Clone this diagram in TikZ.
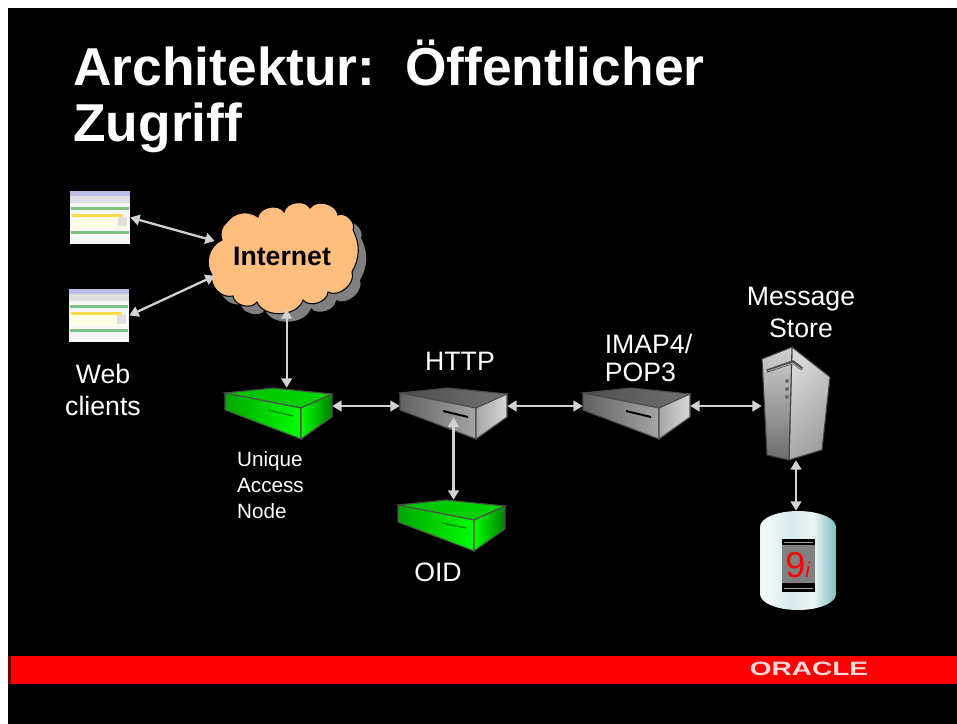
\documentclass[tikz,border=0pt]{standalone}
\usepackage{fontspec}
\setmainfont{Liberation Sans}
\usetikzlibrary{arrows.meta}
\definecolor{cloudfill}{HTML}{FFBE7D}
\definecolor{linkgray}{HTML}{D2D2D2}
\pgfdeclarehorizontalshading{dbshade}{100bp}{
  rgb(0bp)=(0.08,0.36,0.36); rgb(10bp)=(0.40,0.68,0.68); rgb(26bp)=(0.96,0.98,0.98);
  rgb(46bp)=(0.84,0.92,0.92); rgb(60bp)=(0.92,0.96,0.96); rgb(78bp)=(0.40,0.72,0.70);
  rgb(92bp)=(0.26,0.58,0.56); rgb(100bp)=(0.06,0.30,0.30)}
\tikzset{
  whitetext/.style={text=white, inner sep=0pt, align=left, font=\fontsize{20}{24}\selectfont},
  boxnode/.style={inner sep=0pt, minimum width=80.25pt, minimum height=27pt},
  link/.style={draw=linkgray, line width=1.7pt, {Triangle[length=7pt,width=8pt]}-{Triangle[length=7pt,width=8pt]}},
}
% box: name, x, y, top colors, left colors, right colors, border
\newcommand{\flatbox}[9]{
  \begin{scope}[shift={(#2,#3)}]
    \node[boxnode] (#1) at (53.5,13) {};
    \shadedraw[draw=#9, line width=0.8pt, left color=#4, right color=#5] (0,0) -- (48,-5) -- (107,1) -- (76,15) -- cycle;
    \shadedraw[draw=#9, line width=0.8pt, left color=#6, right color=#7] (0,0) -- (76,15) -- (76,46) -- (0,17) -- cycle;
    \shadedraw[draw=#9, line width=0.8pt, left color=#7, right color=#8] (76,15) -- (107,1) -- (107,24) -- (76,46) -- cycle;
  \end{scope}
}
% web page thumbnail
\newcommand{\webpage}[3]{
  \begin{scope}[shift={(#2,#3)}]
    \node[inner sep=0pt, minimum width=45pt, minimum height=39.75pt, fill=white!93!gray] (#1) at (30,26.5) {};
    \fill[gray!50!blue!35!white] (0,0) rectangle (60,5);
    \fill[gray!25] (0,5) rectangle (60,12);
    \fill[green!35!gray!75!white] (1,16) rectangle (59,19);
    \fill[yellow!65!orange!70!white] (2,23) rectangle (53,26);
    \fill[yellow!10] (2,26) rectangle (58,37);
    \fill[gray!25] (48,26) rectangle (57,35);
    \fill[green!35!gray!75!white] (1,40) rectangle (59,43);
  \end{scope}
}
% outline of the cloud
\newcommand{\cloudpath}{(222,240) to[bend left=35] (227,222) to[bend left=45] (258,217) to[bend left=70] (284,212)
  to[bend left=70] (310,208) to[bend left=70] (338,215) to[bend left=70] (353,230) to[bend left=28] (352,272)
  to[bend left=70] (328,292) to[bend left=70] (303,300) to[bend left=70] (257,302) to[bend left=70] (233,296)
  to[bend left=60] (212,275) to[bend left=50] cycle}
\begin{document}
\begin{tikzpicture}[x=0.75pt, y=-0.75pt]
  \useasboundingbox (0,0) rectangle (957,724);
  \fill[white] (0,0) rectangle (957,724);
  \fill[black] (8,8) rectangle (957,724);
  \fill[red!45!black] (8,656) rectangle (11,684);
  \fill[red] (11,656) rectangle (957,684);

  % Title
  \node[whitetext, anchor=north west, font=\bfseries\fontsize{40}{42}\selectfont] (title) at (73,40) {Architektur:\ \ Öffentlicher\\Zugriff};

  % Nodes
  \webpage{webtop}{70}{191}
  \webpage{webbottom}{69}{289}
  \node[whitetext, align=center] (webtext) at (103,390) {Web\\clients};

  \fill[gray, shift={(8,8)}] \cloudpath;
  \draw[black, fill=cloudfill, line width=0.8pt] \cloudpath;
  \node[inner sep=0pt, minimum width=100.5pt, minimum height=78.75pt, font=\bfseries\fontsize{20}{24}\selectfont] (internet) at (282,256.5) {Internet};

  \flatbox{uan}{225}{393}{green!75!black}{green!85!black}{green!65!black}{green}{green!50!black}{black!70}
  \draw[green!55!black, line width=1pt] (268,410) -- (293,416);
  \node[whitetext, font=\fontsize{15.5}{19.5}\selectfont] (uantext) at (270.5,485) {Unique\\Access\\Node};

  \flatbox{http}{400}{393}{black!70}{black!55}{black!62}{black!35}{black!15}{black!70}
  \fill[black] (443,410) -- (468,416) -- (468,418) -- (443,412) -- cycle;
  \node[whitetext] (httptext) at (460,361) {HTTP};

  \flatbox{imap}{583}{393}{black!70}{black!55}{black!62}{black!35}{black!15}{black!70}
  \fill[black] (626,410) -- (651,416) -- (651,418) -- (626,412) -- cycle;
  \node[whitetext, font=\fontsize{20}{21}\selectfont] (imaptext) at (648.5,358) {IMAP4/\\POP3};

  \flatbox{oid}{398}{505}{green!75!black}{green!85!black}{green!65!black}{green}{green!50!black}{black!70}
  \draw[green!55!black, line width=1pt] (442,523) -- (466,528);
  \node[whitetext] (oidtext) at (438,572) {OID};

  % Message store
  \node[inner sep=0pt, minimum width=51pt, minimum height=81pt] (store) at (796,406) {};
  \shadedraw[draw=black!75, line width=0.8pt, left color=gray!30, right color=gray!75, shading angle=45] (792,347) -- (830,377) -- (822,450) -- (789,460) -- cycle;
  \shadedraw[draw=black!75, line width=0.8pt, top color=gray!35, bottom color=gray!85!black] (792,347) -- (762,359) -- (767,455) -- (789,460) -- cycle;
  \draw[black!70, line width=2.5pt] (767,371) -- (793,362) -- (802,369);
  \draw[gray!70, line width=0.7pt] (768,371) -- (793,363) -- (801,369);
  \foreach \doty in {381,389,397} \fill[black!60] (787,\doty) circle (2);
  \node[whitetext, align=center] (storetext) at (801,312) {Message\\Store};

  % Database
  \node[inner sep=0pt, minimum width=57pt, minimum height=74.25pt] (db) at (798,560.5) {};
  \shade[shading=dbshade] (760,527) arc[start angle=180, end angle=360, x radius=38, y radius=16] -- (836,594) arc[start angle=0, end angle=180, x radius=38, y radius=16] -- cycle;
  \fill[black] (782,539) rectangle (815,592);
  \fill[gray] (782,545) rectangle (815,583);
  \draw[gray!70, line width=0.6pt] (784,542) -- (813,542) (784,588) -- (813,588);
  \node[text=red, inner sep=0pt, font=\fontsize{27}{27}\selectfont] (nine) at (798,565) {9\textit{\fontsize{16}{16}\selectfont i}};

  % ORACLE logo
  \node[text=red!15!white, inner sep=0pt, xscale=1.45, font=\bfseries\fontsize{14.5}{15}\selectfont] (logo) at (809,669) {ORACLE};

  % Connectors
  \draw[link] (webtop.east) -- (internet.167);
  \draw[link] (webbottom.east) -- (internet.196);
  \draw[link] (internet.south -| uan.66) -- (uan.66);
  \draw[link] (uan.east) -- (http.west);
  \draw[link] (http.east) -- (imap.west);
  \draw[link] (imap.east) -- (store.west);
  \draw[link, shorten <=-5pt] (http.south) -- (oid.north -| http.south);
  \draw[link] (store.south) -- (db.north -| store.south);
\end{tikzpicture}
\end{document}
